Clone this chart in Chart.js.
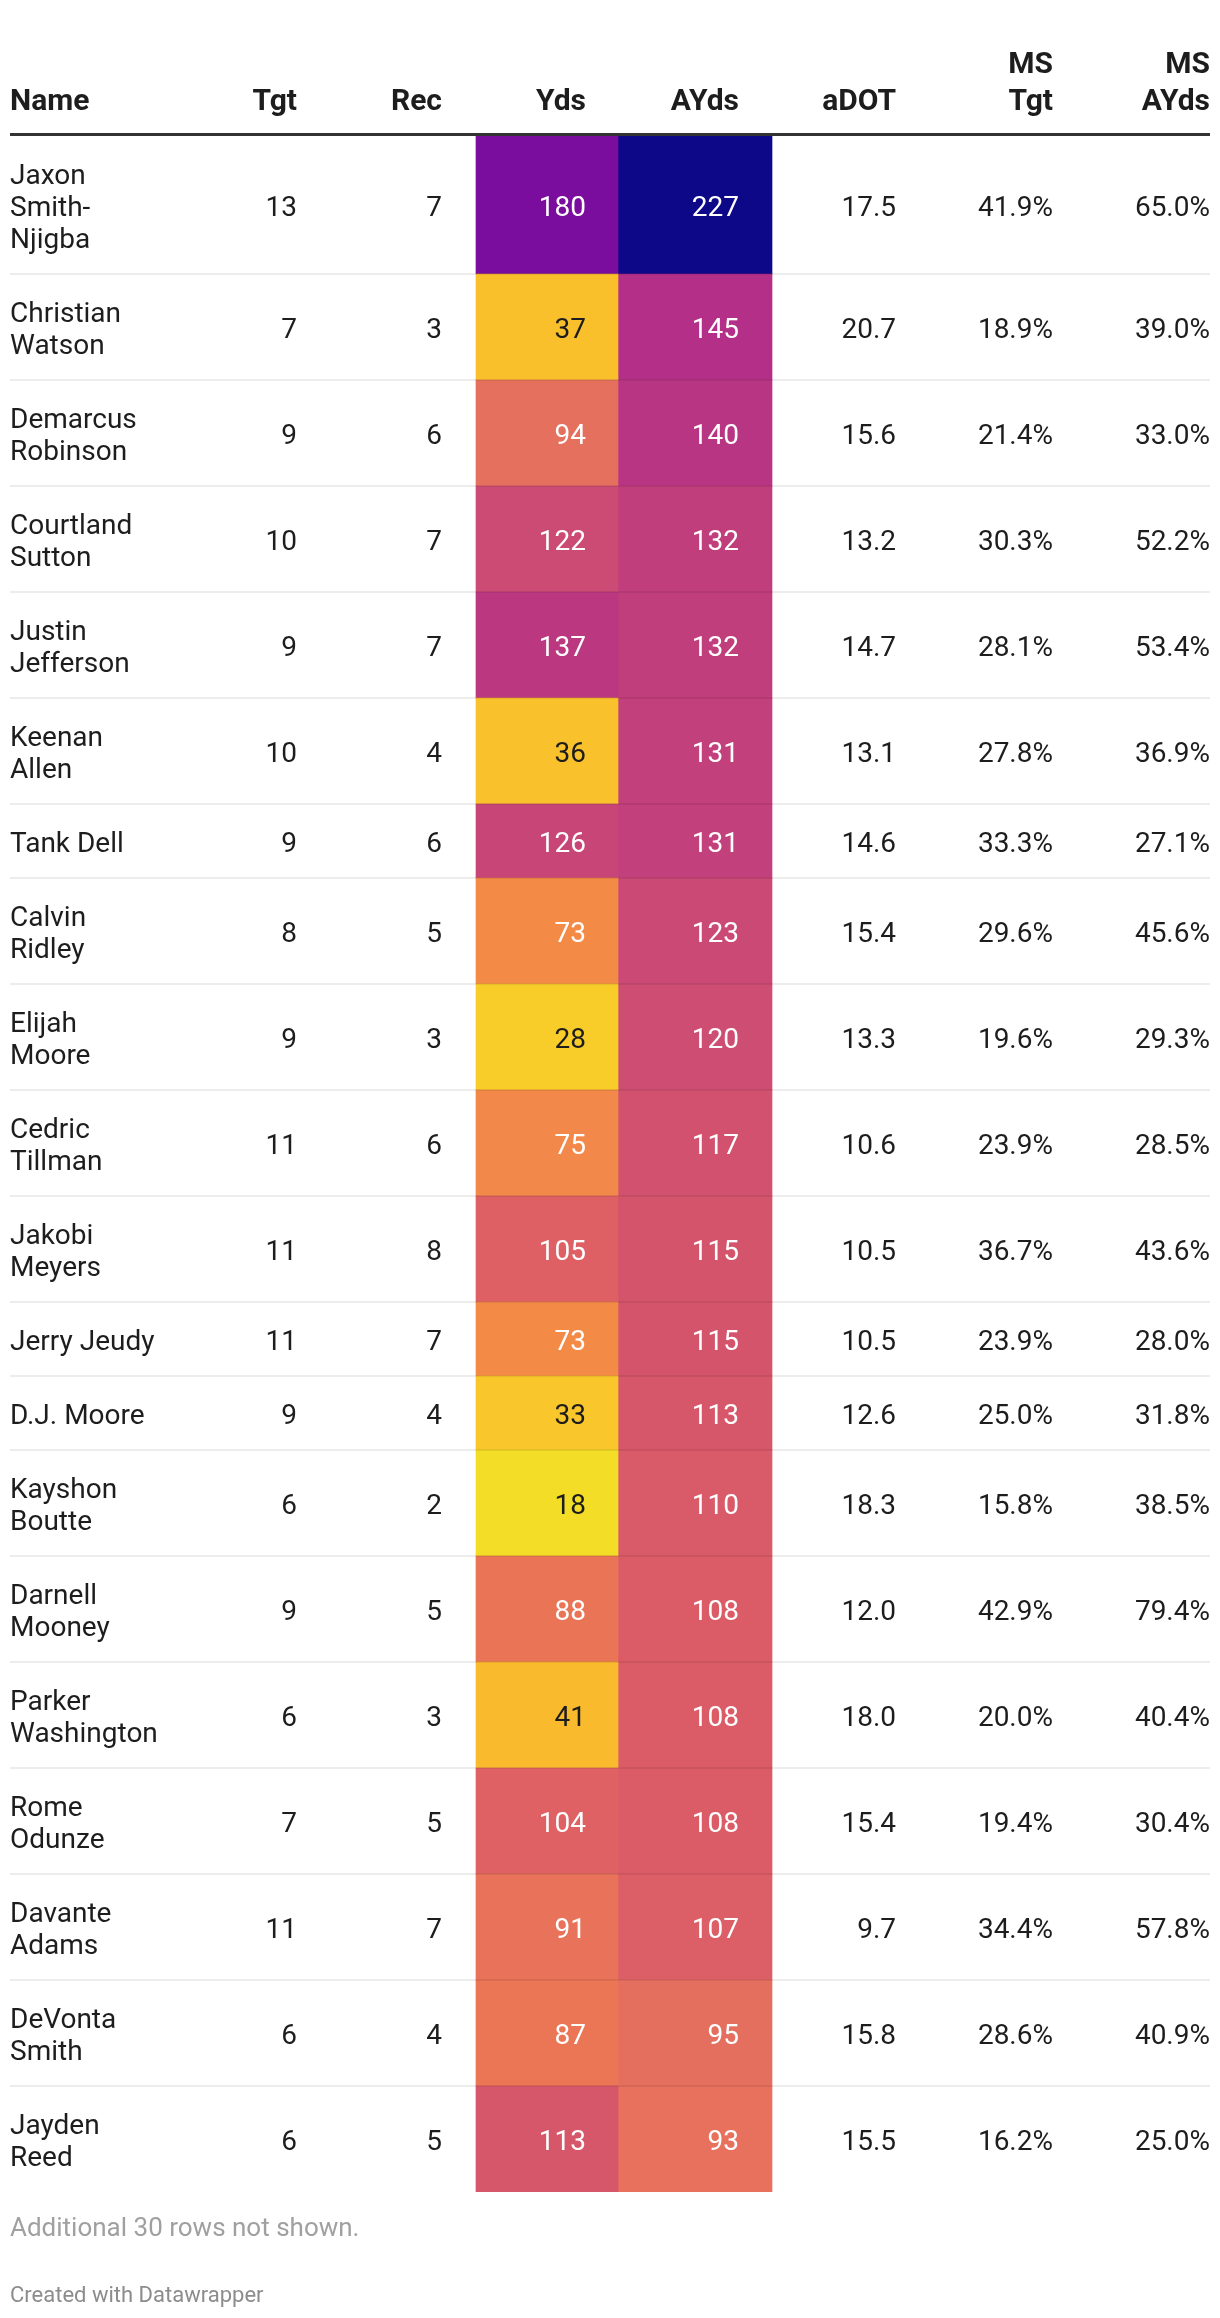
<!DOCTYPE html>
<html>
<head>
<meta charset="utf-8">
<title>Receiving leaders</title>
<script src="https://cdn.jsdelivr.net/npm/chart.js@4.4.1/dist/chart.umd.min.js"></script>
<style>
  html, body { margin: 0; padding: 0; background: #fff; }
  #wrap { width: 1220px; height: 2318px; }
</style>
</head>
<body>
<div id="wrap"><canvas id="table" width="1220" height="2318"></canvas></div>
<script>
// ---- data ----
const names = [
  'Jaxon\nSmith-\nNjigba', 'Christian\nWatson', 'Demarcus\nRobinson', 'Courtland\nSutton',
  'Justin\nJefferson', 'Keenan\nAllen', 'Tank Dell', 'Calvin\nRidley', 'Elijah\nMoore',
  'Cedric\nTillman', 'Jakobi\nMeyers', 'Jerry Jeudy', 'D.J. Moore', 'Kayshon\nBoutte',
  'Darnell\nMooney', 'Parker\nWashington', 'Rome\nOdunze', 'Davante\nAdams',
  'DeVonta\nSmith', 'Jayden\nReed'
];
const tgt    = [13, 7, 9, 10, 9, 10, 9, 8, 9, 11, 11, 11, 9, 6, 9, 6, 7, 11, 6, 6];
const rec    = [7, 3, 6, 7, 7, 4, 6, 5, 3, 6, 8, 7, 4, 2, 5, 3, 5, 7, 4, 5];
const yds    = [180, 37, 94, 122, 137, 36, 126, 73, 28, 75, 105, 73, 33, 18, 88, 41, 104, 91, 87, 113];
const ayds   = [227, 145, 140, 132, 132, 131, 131, 123, 120, 117, 115, 115, 113, 110, 108, 108, 108, 107, 95, 93];
const adot   = [17.5, 20.7, 15.6, 13.2, 14.7, 13.1, 14.6, 15.4, 13.3, 10.6, 10.5, 10.5, 12.6, 18.3, 12.0, 18.0, 15.4, 9.7, 15.8, 15.5];
const msTgt  = [41.9, 18.9, 21.4, 30.3, 28.1, 27.8, 33.3, 29.6, 19.6, 23.9, 36.7, 23.9, 25.0, 15.8, 42.9, 20.0, 19.4, 34.4, 28.6, 16.2];
const msAyds = [65.0, 39.0, 33.0, 52.2, 53.4, 36.9, 27.1, 45.6, 29.3, 28.5, 43.6, 28.0, 31.8, 38.5, 79.4, 40.4, 30.4, 57.8, 40.9, 25.0];

const headers = [['Name'], ['Tgt'], ['Rec'], ['Yds'], ['AYds'], ['aDOT'], ['MS', 'Tgt'], ['MS', 'AYds']];
const notes = ['Additional 30 rows not shown.', 'Created with Datawrapper'];

// shared colour scale for Yds / AYds (value -> colour)
const heatStops = [
  [18, '#f4dd26'], [28, '#f8cd2a'], [36, '#f9c12b'], [41, '#f9ba2e'], [73, '#f38b47'],
  [88, '#ea7556'], [94, '#e6705e'], [105, '#de6064'], [113, '#d6566a'], [122, '#cc4b74'],
  [137, '#bb3880'], [145, '#b32f88'], [180, '#7a0c9e'], [227, '#0d0887']
];

// ---- layout ----
const TABLE_W = 1200;
const LINE_H = 32;
const ROW_PAD = 42;
const colAnchor = [0, 287, 432, 576, 729, 886, 1043, 1200];
const heatCols = [{ from: 466, to: 608 }, { from: 608, to: 762 }];
const BODY_TOP = 136;

const rowH = names.map(n => n.split('\n').length * LINE_H + ROW_PAD);
const rowTop = rowH.map((h, i) => rowH.slice(0, i).reduce((s, v) => s + v, 0));
const total = rowH.reduce((s, v) => s + v, 0);

const hex = h => [1, 3, 5].map(i => parseInt(h.slice(i, i + 2), 16));
const heatRgb = v => {
  let i = 0;
  while (i < heatStops.length - 2 && v > heatStops[i + 1][0]) i++;
  const [v0, c0] = heatStops[i], [v1, c1] = heatStops[i + 1];
  const t = Math.max(0, Math.min(1, (v - v0) / (v1 - v0)));
  const a = hex(c0), b = hex(c1);
  return a.map((x, k) => Math.round(x + (b[k] - x) * t));
};
const heatColor = v => 'rgb(' + heatRgb(v).join(',') + ')';
const isLight = v => {
  const [r, g, b] = heatRgb(v).map(c => {
    c /= 255;
    return c <= 0.03928 ? c / 12.92 : Math.pow((c + 0.055) / 1.055, 2.4);
  });
  return 0.2126 * r + 0.7152 * g + 0.0722 * b > 0.45;
};

const cellData = (vals, col) => vals.map((v, i) => ({
  x: (col.from + col.to) / 2,
  y: [rowTop[i], rowTop[i] + rowH[i]]
}));

const fmt1 = v => v.toFixed(1);
const pct = v => v.toFixed(1) + '%';

const TEXT = '#1d1d1d';
const FONT = 'Roboto, "Noto Sans", sans-serif';

const tablePlugin = {
  id: 'tableText',
  afterDatasetsDraw(chart) {
    const { ctx, chartArea: a, scales: { x, y } } = chart;
    const left = x.getPixelForValue(0), right = x.getPixelForValue(TABLE_W);
    ctx.save();

    // row separators
    ctx.strokeStyle = 'rgba(0,0,0,0.07)';
    ctx.lineWidth = 2;
    for (let i = 1; i < names.length; i++) {
      const py = y.getPixelForValue(rowTop[i]);
      ctx.beginPath();
      ctx.moveTo(left, py);
      ctx.lineTo(right, py);
      ctx.stroke();
    }

    // header rule
    ctx.strokeStyle = '#333';
    ctx.lineWidth = 3;
    ctx.beginPath();
    ctx.moveTo(left, a.top - 1.5);
    ctx.lineTo(right, a.top - 1.5);
    ctx.stroke();

    // header labels
    ctx.fillStyle = TEXT;
    ctx.font = 'bold 30px ' + FONT;
    ctx.textBaseline = 'alphabetic';
    headers.forEach((lines, c) => {
      ctx.textAlign = c === 0 ? 'left' : 'right';
      const px = x.getPixelForValue(colAnchor[c]);
      lines.forEach((t, k) => {
        ctx.fillText(t, px, a.top - 26 - (lines.length - 1 - k) * 37);
      });
    });

    // body
    ctx.font = '28px ' + FONT;
    names.forEach((n, i) => {
      const yc = y.getPixelForValue(rowTop[i] + rowH[i] / 2);
      const base = yc + 11;
      const lines = n.split('\n');
      ctx.fillStyle = TEXT;
      ctx.textAlign = 'left';
      lines.forEach((t, k) => {
        ctx.fillText(t, x.getPixelForValue(colAnchor[0]), base + (k - (lines.length - 1) / 2) * LINE_H);
      });
      const cells = [String(tgt[i]), String(rec[i]), String(yds[i]), String(ayds[i]),
        fmt1(adot[i]), pct(msTgt[i]), pct(msAyds[i])];
      ctx.textAlign = 'right';
      cells.forEach((t, c) => {
        let col = TEXT;
        if (c === 2) col = isLight(yds[i]) ? TEXT : '#fff';
        if (c === 3) col = isLight(ayds[i]) ? TEXT : '#fff';
        ctx.fillStyle = col;
        ctx.fillText(t, x.getPixelForValue(colAnchor[c + 1]), base);
      });
    });

    // notes
    ctx.textAlign = 'left';
    ctx.fillStyle = '#a0a0a0';
    ctx.font = '26px ' + FONT;
    ctx.fillText(notes[0], left, a.bottom + 44);
    ctx.fillStyle = '#8c8c8c';
    ctx.font = '22px ' + FONT;
    ctx.fillText(notes[1], left, a.bottom + 110);

    ctx.restore();
  }
};

new Chart(document.getElementById('table'), {
  type: 'bar',
  data: {
    datasets: [
      { label: 'Yds', data: cellData(yds, heatCols[0]), backgroundColor: yds.map(heatColor),
        barThickness: heatCols[0].to - heatCols[0].from, grouped: false, borderWidth: 0 },
      { label: 'AYds', data: cellData(ayds, heatCols[1]), backgroundColor: ayds.map(heatColor),
        barThickness: heatCols[1].to - heatCols[1].from, grouped: false, borderWidth: 0 }
    ]
  },
  options: {
    responsive: false,
    animation: false,
    events: [],
    layout: { padding: { left: 10, right: 10, top: BODY_TOP, bottom: 2318 - BODY_TOP - total } },
    plugins: { legend: { display: false }, tooltip: { enabled: false } },
    scales: {
      x: { type: 'linear', min: 0, max: TABLE_W, offset: false, display: false },
      y: { type: 'linear', min: 0, max: total, reverse: true, display: false }
    }
  },
  plugins: [tablePlugin]
});
</script>
</body>
</html>
